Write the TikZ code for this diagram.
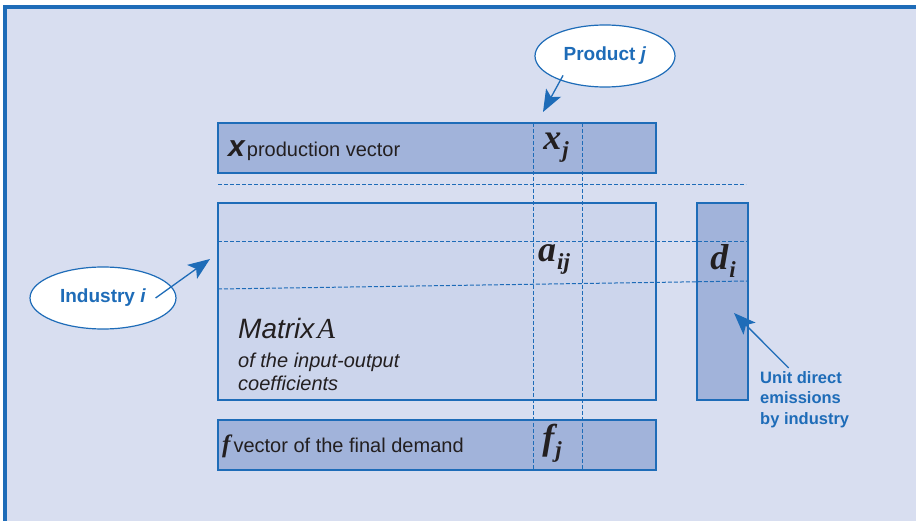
\documentclass[tikz,border=0pt]{standalone}
\usepackage{fontspec}
\setmainfont{Liberation Sans}
\newfontfamily\serifsym{Liberation Serif}
\usetikzlibrary{positioning}
\usetikzlibrary{shapes, arrows.meta}

\definecolor{panel}{RGB}{216,222,240}
\definecolor{matfill}{RGB}{204,213,236}
\definecolor{vecfill}{RGB}{161,179,218}
\definecolor{iblue}{RGB}{30,108,184}
\definecolor{ink}{RGB}{35,31,32}

% bold italic serif symbol with a lowered index
\newcommand{\entry}[2]{{\serifsym\bfseries\itshape\fontsize{36}{36}\selectfont #1\kern1pt\raisebox{-8pt}{\fontsize{23}{23}\selectfont #2}}}

\begin{document}
\begin{tikzpicture}[x=1pt, y=-1pt]
    \tikzstyle{vec} = [rectangle, draw=iblue, fill=vecfill, line width=1.2pt,
    minimum width=438pt, minimum height=50pt, inner sep=0pt, outer sep=0pt]
    \tikzstyle{mat} = [vec, fill=matfill, minimum height=197pt]
    \tikzstyle{gridline} = [draw=iblue, dash pattern=on 4pt off 2pt, line width=1pt]
    \tikzstyle{bubble} = [ellipse, draw=iblue, fill=white, line width=1.2pt,
    text=iblue, inner sep=0pt, font=\bfseries\fontsize{19}{19}\selectfont]
    \tikzstyle{line} = [draw=iblue, line width=1.3pt,
    -{Stealth[length=22pt,width=17pt,inset=5pt]}]
    \tikzstyle{label} = [inner sep=0pt, text=ink, font=\fontsize{20}{23}\selectfont]
    \useasboundingbox (0,0) rectangle (916,521);
    % panel
    \fill[panel] (5,7) rectangle (930,535);
    \draw[iblue, line width=3.5pt] (5,540) -- (5,7) -- (930,7);
    % boxes
    \node [vec] (xvec) at (437,148) {};
    \node [mat, below=30pt of xvec] (matA) {};
    \node [vec, below=20pt of matA] (fvec) {};
    \node [vec, minimum width=51pt, minimum height=197pt, right=41pt of matA] (dvec) {};
    % column j and row i
    \coordinate (colL) at (533,0);
    \coordinate (colR) at (582,0);
    \path [gridline] (colL |- xvec.north) -- (colL |- fvec.south);
    \path [gridline] (colR |- xvec.north) -- (colR |- fvec.south);
    \path [gridline] (218,185) -- (746,185);
    \path [gridline] (218,242) -- (748,242);
    \path [gridline] (218,289) -- (748,281);
    % texts
    \node [label, anchor=base west] (xtext) at ([shift={(10,9)}]xvec.west)
    {{\bfseries\itshape\fontsize{30}{30}\selectfont x}\kern2pt production vector};
    \node [label, anchor=base west] (ftext) at ([shift={(4,7)}]fvec.west)
    {{\serifsym\bfseries\itshape\fontsize{25}{25}\selectfont f}\kern3pt vector of the final demand};
    \node [label, anchor=base west] (mtitle) at ([shift={(20,136)}]matA.north west)
    {{\itshape\fontsize{28}{28}\selectfont Matrix}\kern3pt{\serifsym\itshape\fontsize{29}{29}\selectfont A}};
    \node [label, anchor=north west, align=left, font=\itshape\fontsize{20}{23}\selectfont]
    (mnote) at ([shift={(20,150)}]matA.north west) {of the input-output\\coefficients};
    \node [label] (xj) at (556,148) {\entry{x}{j}};
    \node [label] (aij) at (554,259) {\entry{a}{ij}};
    \node [label] (di) at (723,261) {\entry{d}{i}};
    \node [label] (fj) at (552,443) {\entry{f}{j}};
    % callouts
    \node [bubble, minimum width=140pt, minimum height=62pt] (product) at (605,56)
    {Product \textit{j}};
    \node [bubble, minimum width=146pt, minimum height=62pt] (industry) at (103,298)
    {Industry \textit{i}};
    \node [inner sep=0pt, anchor=north west, align=left, text=iblue,
    font=\bfseries\fontsize{16.5}{20.5}\selectfont] (unit) at (760,371)
    {Unit direct\\emissions\\by industry};
    \coordinate (ptip) at (543,112);
    \coordinate (itip) at (210,259);
    \coordinate (utip) at (734,313);
    \path [line] ([shift={(8,-3)}]product.south west) -- (ptip);
    \path [line] ([xshift=-21pt]industry.east) -- (itip);
    \path [line] ([xshift=-16pt,yshift=3pt]unit.north) -- (utip);
\end{tikzpicture}
\end{document}
